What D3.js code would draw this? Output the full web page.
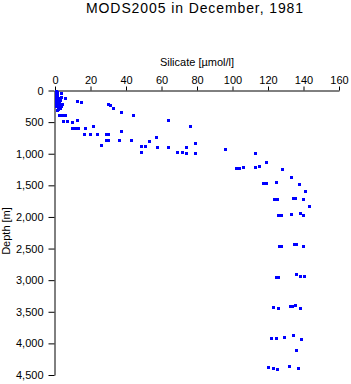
<!DOCTYPE html>
<html>
<head>
<meta charset="utf-8">
<script src="https://cdn.jsdelivr.net/npm/d3@7"></script>
<style>
  body { margin: 0; background: #fff; }
  text { font-family: "Liberation Sans", Arial, Helvetica, sans-serif; }
</style>
</head>
<body>
<svg id="chart" width="351" height="384"></svg>
<script>
// silicate [umol/l] and depth [m]
const silicate = [
  0.3, 0.6, 1.1, 0.6, 1.4, 0.6, 1.7, 0.6, 1.1, 2.0, 0.6, 1.1, 2.3, 0.6, 1.7, 2.8, 1.7, 1.1,
  3.4, 5.6, 3.4, 2.8, 3.9, 3.4,
  12.4, 14.6, 29.9, 31.0, 32.7, 37.2, 43.9, 63.7,
  2.3, 3.9, 5.6, 4.5, 6.8, 9.6, 12.4, 9.6, 11.3, 13.0, 16.9, 21.4,
  16.3, 19.7, 23.7, 28.7, 29.9, 28.7, 29.9, 25.9, 36.1, 37.2, 42.8,
  48.5, 50.7, 48.5, 53.0, 56.9, 57.5, 63.7, 68.7, 71.5, 73.8, 73.8, 76.1, 78.9, 78.9,
  95.8, 112.7, 118.9, 102.0, 103.7, 105.9, 112.7, 114.9, 127.9, 133.0,
  117.2, 118.9, 124.5, 137.5, 140.8, 123.4, 125.1, 134.1, 135.2, 139.7, 143.1,
  125.6, 127.3, 133.0, 138.0, 139.7,
  126.2, 127.3, 134.6, 135.8, 139.7,
  124.5, 125.6, 135.8, 138.0, 140.3,
  122.8, 125.6, 132.4, 133.5, 135.2, 138.0,
  121.7, 124.5, 129.0, 134.1, 138.6, 135.8,
  120.0, 122.8, 125.1, 131.8, 136.9
];
const depth = [
  0, 8, 24, 55, 71, 103, 118, 150, 166, 182, 197, 213, 229, 245, 260, 276, 300, 308,
  110, 126, 40, 150, 213, 245,
  166, 182, 213, 224, 276, 340, 387, 466,
  387, 387, 387, 482, 482, 497, 466, 592, 592, 592, 592, 561,
  687, 687, 687, 687, 687, 782, 782, 868, 782, 647, 782,
  876, 876, 971, 797, 734, 892, 892, 971, 979, 900, 987, 568, 829, 987,
  924, 987, 1129, 1224, 1224, 1208, 1208, 1200, 1240, 1366,
  1460, 1460, 1445, 1476, 1587, 1713, 1713, 1697, 1697, 1721, 1824,
  1966, 1966, 1950, 1934, 1966,
  2455, 2455, 2424, 2424, 2455,
  2945, 2945, 2897, 2929, 2929,
  3418, 3434, 3402, 3402, 3387, 3434,
  3908, 3908, 3892, 3860, 3924, 4098,
  4366, 4382, 4413, 4350, 4397
];
const xTicks = [0, 20, 40, 60, 80, 100, 120, 140, 160];
const yTicks = [0, 500, 1000, 1500, 2000, 2500, 3000, 3500, 4000, 4500];

const svg = d3.select("#chart");

const x = d3.scaleLinear().domain([0, 160]).range([55, 339]);
const y = d3.scaleLinear().domain([0, 4500]).range([90.5, 375]);

// top axis
svg.append("g")
  .attr("transform", "translate(0,90.5)")
  .call(d3.axisTop(x).tickValues(xTicks).tickSize(4).tickSizeOuter(0).tickPadding(3))
  .call(g => g.selectAll("text").attr("font-size", 11).attr("fill", "#000")
    .attr("font-family", "Liberation Sans, Arial, sans-serif"))
  .call(g => g.selectAll("line, path").attr("stroke", "#000"));

// left axis
svg.append("g")
  .attr("transform", "translate(54.5,0)")
  .call(d3.axisLeft(y).tickValues(yTicks).tickSize(6).tickSizeOuter(0).tickPadding(5))
  .call(g => g.selectAll("text").attr("font-size", 11).attr("fill", "#000")
    .attr("font-family", "Liberation Sans, Arial, sans-serif"))
  .call(g => g.selectAll("line, path").attr("stroke", "#000"));

// points
svg.append("g")
  .attr("shape-rendering", "crispEdges")
  .selectAll("rect")
  .data(silicate.map((s, i) => ({ s, d: depth[i] })))
  .join("rect")
    .attr("x", p => Math.round(x(p.s)) - 1)
    .attr("y", p => Math.round(y(p.d)) - 1)
    .attr("width", 3)
    .attr("height", 3)
    .attr("fill", "#0000ff");

// labels
svg.append("text")
  .attr("x", 195).attr("y", 13)
  .attr("text-anchor", "middle")
  .attr("font-size", 14)
  .attr("letter-spacing", 0.9)
  .text("MODS2005 in December, 1981");

svg.append("text")
  .attr("x", 197).attr("y", 66)
  .attr("text-anchor", "middle")
  .attr("font-size", 11)
  .text("Silicate [µmol/l]");

svg.append("text")
  .attr("transform", "translate(10,231) rotate(-90)")
  .attr("text-anchor", "middle")
  .attr("font-size", 11)
  .text("Depth [m]");
</script>
</body>
</html>
